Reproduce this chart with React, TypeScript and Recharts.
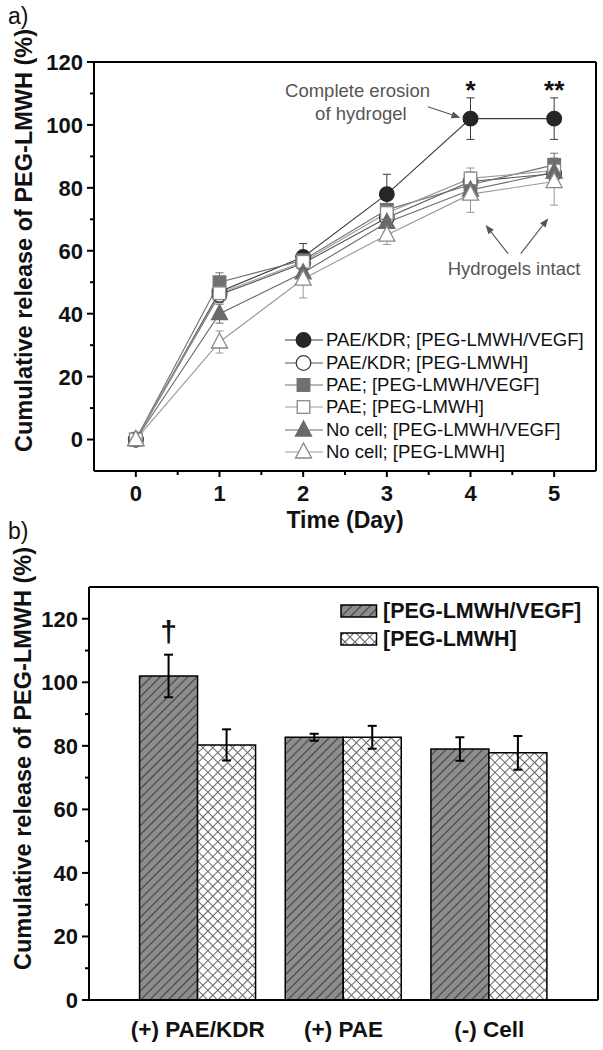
import {
  LineChart,
  Line,
  BarChart,
  Bar,
  XAxis,
  YAxis,
  CartesianGrid,
  ErrorBar,
  ReferenceLine,
  ReferenceDot,
  LabelList,
  Legend,
} from "recharts";

// === data: panel a (cumulative release over time) ===
const days = [0, 1, 2, 3, 4, 5];
const kdrVegf = [0, 47, 58, 78, 102, 102];
const kdrVegfErr = [0.5, 3, 4.3, 6.3, 6.6, 6.6];
const kdrLmwh = [0, 46, 56, 70.5, 82, 84.5];
const kdrLmwhErr = [0.5, 2.5, 3, 3, 3, 3.5];
const paeVegf = [0, 50, 57, 73, 81, 87.3];
const paeVegfErr = [0.5, 3, 3, 3, 3, 3.7];
const paeLmwh = [0, 46.5, 56.5, 72, 83, 85.5];
const paeLmwhErr = [0.5, 2.5, 2.5, 2.5, 3.3, 3];
const noCellVegf = [0, 40, 53, 69, 79.3, 85];
const noCellVegfErr = [0.5, 3, 3, 3, 3, 4];
const noCellLmwh = [0, 31, 51, 65, 78, 82];
const noCellLmwhErr = [0.5, 3.5, 6, 3, 5.8, 7.5];
const stars = ["", "", "", "", "*", "**"];

const xTicksA = [0, 0.5, 1, 1.5, 2, 2.5, 3, 3.5, 4, 4.5, 5];
const yTicksA = [0, 10, 20, 30, 40, 50, 60, 70, 80, 90, 100, 110, 120];

// annotation anchors, in data units (day, %)
const arrowsA = [
  { from: [3.49, 105.8], to: [3.88, 102.3] },
  { from: [4.45, 59.1], to: [4.18, 68.2] },
  { from: [4.6, 59.1], to: [4.93, 70.3] },
];
const notesA = [
  { text: "Complete erosion", at: [2.65, 109] },
  { text: "of hydrogel", at: [2.69, 101.6] },
  { text: "Hydrogels intact", at: [4.52, 52.2] },
];

// === data: panel b (final release per condition) ===
const groups = ["(+) PAE/KDR", "(+) PAE", "(-) Cell"];
const vegfFinal = [102, 82.7, 79];
const vegfFinalErr = [6.7, 1.1, 3.7];
const lmwhFinal = [80.3, 82.7, 77.8];
const lmwhFinalErr = [4.9, 3.6, 5.3];
const daggers = ["†", "", ""];
const yTicksB = [0, 10, 20, 30, 40, 50, 60, 70, 80, 90, 100, 110, 120];

const FONT = '"Liberation Sans", Arial, sans-serif';

const SERIES_A = [
  { key: "kdrVegf", name: "PAE/KDR; [PEG-LMWH/VEGF]", values: kdrVegf, errors: kdrVegfErr, shape: "circle", fill: "#262626", stroke: "#262626", line: "#3a3a3a" },
  { key: "kdrLmwh", name: "PAE/KDR; [PEG-LMWH]", values: kdrLmwh, errors: kdrLmwhErr, shape: "circle", fill: "#ffffff", stroke: "#3a3a3a", line: "#555555" },
  { key: "paeVegf", name: "PAE; [PEG-LMWH/VEGF]", values: paeVegf, errors: paeVegfErr, shape: "square", fill: "#707070", stroke: "#707070", line: "#707070" },
  { key: "paeLmwh", name: "PAE; [PEG-LMWH]", values: paeLmwh, errors: paeLmwhErr, shape: "square", fill: "#ffffff", stroke: "#8a8a8a", line: "#999999" },
  { key: "noCellVegf", name: "No cell; [PEG-LMWH/VEGF]", values: noCellVegf, errors: noCellVegfErr, shape: "triangle", fill: "#6a6a6a", stroke: "#6a6a6a", line: "#6a6a6a" },
  { key: "noCellLmwh", name: "No cell; [PEG-LMWH]", values: noCellLmwh, errors: noCellLmwhErr, shape: "triangle", fill: "#ffffff", stroke: "#888888", line: "#999999" },
];

const rowsA = days.map((day, i) => {
  const row: Record<string, number> = { day };
  SERIES_A.forEach((s) => {
    row[s.key] = s.values[i];
    row[s.key + "Err"] = s.errors[i];
  });
  return row;
});

const BAR_SERIES = [
  { key: "vegf", name: "[PEG-LMWH/VEGF]", fill: "url(#hatchB)" },
  { key: "lmwh", name: "[PEG-LMWH]", fill: "url(#crossB)" },
];

const rowsB = groups.map((group, i) => ({
  group,
  vegf: vegfFinal[i],
  vegfErr: vegfFinalErr[i],
  lmwh: lmwhFinal[i],
  lmwhErr: lmwhFinalErr[i],
}));

/** marker shapes for panel a */
function Marker({ shape, cx, cy, fill, stroke }: any) {
  if (cx == null || cy == null) return null;
  if (shape === "circle")
    return <circle cx={cx} cy={cy} r={7.3} fill={fill} stroke={stroke} strokeWidth={1.3} />;
  if (shape === "square")
    return <rect x={cx - 6.3} y={cy - 6.3} width={12.6} height={12.6} fill={fill} stroke={stroke} strokeWidth={1.3} />;
  return (
    <polygon
      points={`${cx},${cy - 9} ${cx - 8},${cy + 6} ${cx + 8},${cy + 6}`}
      fill={fill}
      stroke={stroke}
      strokeWidth={1.3}
    />
  );
}

const makeDot = (s: any) => (props: any) =>
  <Marker key={`${s.key}-${props.index}`} shape={s.shape} cx={props.cx} cy={props.cy} fill={s.fill} stroke={s.stroke} />;

/** y ticks: major every 20 with label, minor every 10 */
const YTick = (props: any) => {
  const { x, y, payload } = props;
  const major = payload.value % 20 === 0;
  return (
    <g>
      <line x1={x} y1={y} x2={x - (major ? 7 : 4)} y2={y} stroke="#000" strokeWidth={2} />
      {major && (
        <text x={x - 11} y={y} dy="0.36em" textAnchor="end" fontFamily={FONT} fontWeight="bold" fontSize={22} fill="#111">
          {payload.value}
        </text>
      )}
    </g>
  );
};

const XTickA = (props: any) => {
  const { x, y, payload } = props;
  const major = Number.isInteger(payload.value);
  return (
    <g>
      <line x1={x} y1={y} x2={x} y2={y + (major ? 6 : 4)} stroke="#000" strokeWidth={2} />
      {major && (
        <text x={x} y={y + 30} textAnchor="middle" fontFamily={FONT} fontWeight="bold" fontSize={22} fill="#111">
          {payload.value}
        </text>
      )}
    </g>
  );
};

const XTickB = (props: any) => {
  const { x, y, payload } = props;
  return (
    <text x={x} y={y + 37} textAnchor="middle" fontFamily={FONT} fontWeight="bold" fontSize={22.5} fill="#111">
      {payload.value}
    </text>
  );
};

const yTitle = (dx: number, shift: number) => (p: any) => {
  const vb = p.viewBox;
  const x = vb.x + dx;
  const y = vb.y + vb.height / 2 + shift;
  return (
    <text x={x} y={y} transform={`rotate(-90, ${x}, ${y})`} textAnchor="middle" fontFamily={FONT} fontWeight="bold" fontSize={23.5} fill="#111">
      Cumulative release of PEG-LMWH (%)
    </text>
  );
};

const xTitleA = (p: any) => {
  const vb = p.viewBox;
  return (
    <text x={vb.x + vb.width / 2} y={vb.y + 57} textAnchor="middle" fontFamily={FONT} fontWeight="bold" fontSize={23} fill="#111">
      Time (Day)
    </text>
  );
};

const Arrow = (props: any) => {
  const { x1, y1, x2, y2 } = props;
  const ang = Math.atan2(y2 - y1, x2 - x1);
  const L = 9;
  const W = 3.5;
  const bx = x2 - L * Math.cos(ang);
  const by = y2 - L * Math.sin(ang);
  const pts = `${x2},${y2} ${bx - W * Math.sin(ang)},${by + W * Math.cos(ang)} ${bx + W * Math.sin(ang)},${by - W * Math.cos(ang)}`;
  return (
    <g>
      <line x1={x1} y1={y1} x2={bx} y2={by} stroke="#555" strokeWidth={1.1} />
      <polygon points={pts} fill="#555" />
    </g>
  );
};

const noteShape = (text: string) => (p: any) =>
  (
    <text x={p.cx} y={p.cy} textAnchor="middle" fontFamily={FONT} fontSize={18.5} fill="#555">
      {text}
    </text>
  );

const starLabel = (p: any) => {
  const s = stars[p.index];
  if (!s) return null;
  return (
    <text key={`star-${p.index}`} x={p.x} y={p.y - 20} textAnchor="middle" fontFamily={FONT} fontWeight="bold" fontSize={26} fill="#111">
      {s}
    </text>
  );
};

const daggerLabel = (p: any) => {
  const d = daggers[p.index];
  if (!d) return null;
  return (
    <text key={`dag-${p.index}`} x={p.x + p.width / 2} y={p.y - 34} textAnchor="middle" fontFamily={FONT} fontWeight="bold" fontSize={30} fill="#111">
      {d}
    </text>
  );
};

const LegendA = () => (
  <div style={{ fontFamily: FONT, fontSize: 18.5, color: "#111" }}>
    {SERIES_A.map((s) => (
      <div key={s.key} style={{ display: "flex", alignItems: "center", height: 22.4, whiteSpace: "nowrap" }}>
        <svg width={41} height={22}>
          <line x1={1} x2={39} y1={11} y2={11} stroke={s.line} strokeWidth={1.2} />
          <Marker shape={s.shape} cx={19.5} cy={11} fill={s.fill} stroke={s.stroke} />
        </svg>
        <span style={{ marginLeft: 1 }}>{s.name}</span>
      </div>
    ))}
  </div>
);

const LegendB = () => (
  <div style={{ fontFamily: FONT, fontWeight: "bold", fontSize: 21.5, color: "#111" }}>
    {BAR_SERIES.map((s) => (
      <div key={s.key} style={{ display: "flex", alignItems: "center", height: 28, whiteSpace: "nowrap" }}>
        <svg width={38} height={14}>
          <rect x={1} y={1} width={35.5} height={12} fill={s.fill} stroke="#000" strokeWidth={1.5} />
        </svg>
        <span style={{ marginLeft: 5 }}>{s.name}</span>
      </div>
    ))}
  </div>
);

const frameH = ({ offset }: any) => [offset.top, offset.top + offset.height];
const frameV = ({ offset }: any) => [offset.left, offset.left + offset.width];

const panelLabel = (top: number): React.CSSProperties => ({
  position: "absolute",
  left: 8,
  top,
  fontFamily: FONT,
  fontSize: 23,
  lineHeight: "23px",
  color: "#111",
});

export default function App() {
  return (
    <div style={{ position: "absolute", left: 0, top: 0, width: 603, height: 1050, background: "#fff" }}>
      {/* panel a: release profile */}
      <div style={{ position: "absolute", left: 0, top: 0 }}>
        <LineChart width={603} height={545} data={rowsA} margin={{ top: 62, right: 7, left: 24, bottom: 4 }}>
          <CartesianGrid stroke="#000" strokeWidth={2} horizontalCoordinatesGenerator={frameH} verticalCoordinatesGenerator={frameV} />
          <XAxis
            type="number"
            dataKey="day"
            domain={[-0.5, 5.5]}
            allowDataOverflow
            ticks={xTicksA}
            interval={0}
            height={70}
            tickSize={0}
            tickMargin={0}
            tickLine={false}
            axisLine={{ stroke: "#000", strokeWidth: 2 }}
            tick={XTickA}
            label={{ content: xTitleA }}
          />
          <YAxis
            type="number"
            domain={[-10, 120]}
            allowDataOverflow
            ticks={yTicksA}
            interval={0}
            width={70}
            tickSize={0}
            tickMargin={0}
            tickLine={false}
            axisLine={{ stroke: "#000", strokeWidth: 2 }}
            tick={YTick}
            label={{ content: yTitle(8, -26) }}
          />
          {SERIES_A.map((s, i) => (
            <Line
              key={s.key}
              dataKey={s.key}
              name={s.name}
              type="linear"
              stroke={s.line}
              strokeWidth={1.1}
              dot={makeDot(s)}
              activeDot={false}
              isAnimationActive={false}
            >
              <ErrorBar dataKey={s.key + "Err"} direction="y" width={4} stroke={s.line} strokeWidth={1} />
              {i === 0 && <LabelList dataKey={s.key} content={starLabel} />}
            </Line>
          ))}
          {arrowsA.map((a, i) => (
            <ReferenceLine
              key={`arrow-${i}`}
              segment={[
                { x: a.from[0], y: a.from[1] },
                { x: a.to[0], y: a.to[1] },
              ]}
              shape={Arrow}
            />
          ))}
          {notesA.map((n) => (
            <ReferenceDot key={n.text} x={n.at[0]} y={n.at[1]} r={0} shape={noteShape(n.text)} />
          ))}
          <Legend
            layout="vertical"
            align="center"
            verticalAlign="middle"
            wrapperStyle={{ left: 284, top: 329, width: 318 }}
            content={() => <LegendA />}
          />
        </LineChart>
      </div>

      {/* panel b: final release per condition */}
      <div style={{ position: "absolute", left: 0, top: 520 }}>
        <BarChart
          width={603}
          height={530}
          data={rowsB}
          margin={{ top: 67, right: 5, left: 19, bottom: 5 }}
          barGap={0}
          barCategoryGap="10%"
        >
          <defs>
            <pattern id="hatchB" patternUnits="userSpaceOnUse" width={6.5} height={6.5} patternTransform="rotate(45)">
              <rect width={6.5} height={6.5} fill="#8d8d8d" />
              <line x1={3.25} y1={0} x2={3.25} y2={6.5} stroke="#404040" strokeWidth={1.1} />
            </pattern>
            <pattern id="crossB" patternUnits="userSpaceOnUse" width={7} height={7} patternTransform="rotate(45)">
              <rect width={7} height={7} fill="#fff" />
              <line x1={3.5} y1={0} x2={3.5} y2={7} stroke="#666" strokeWidth={1} />
              <line x1={0} y1={3.5} x2={7} y2={3.5} stroke="#666" strokeWidth={1} />
            </pattern>
          </defs>
          <CartesianGrid stroke="#000" strokeWidth={2} horizontalCoordinatesGenerator={frameH} verticalCoordinatesGenerator={frameV} />
          <XAxis
            dataKey="group"
            padding={{ left: 36, right: 36 }}
            height={45}
            tickSize={0}
            tickMargin={0}
            tickLine={false}
            interval={0}
            axisLine={{ stroke: "#000", strokeWidth: 2 }}
            tick={XTickB}
          />
          <YAxis
            type="number"
            domain={[0, 130]}
            allowDataOverflow
            ticks={yTicksB}
            interval={0}
            width={70}
            tickSize={0}
            tickMargin={0}
            tickLine={false}
            axisLine={{ stroke: "#000", strokeWidth: 2 }}
            tick={YTick}
            label={{ content: yTitle(12, -35) }}
          />
          <Bar dataKey="vegf" name="[PEG-LMWH/VEGF]" fill="url(#hatchB)" stroke="#000" strokeWidth={1.5} isAnimationActive={false}>
            <ErrorBar dataKey="vegfErr" direction="y" width={4.5} stroke="#000" strokeWidth={2} />
            <LabelList dataKey="vegf" content={daggerLabel} />
          </Bar>
          <Bar dataKey="lmwh" name="[PEG-LMWH]" fill="url(#crossB)" stroke="#000" strokeWidth={1.5} isAnimationActive={false}>
            <ErrorBar dataKey="lmwhErr" direction="y" width={4.5} stroke="#000" strokeWidth={2} />
          </Bar>
          <Legend
            layout="vertical"
            align="center"
            verticalAlign="middle"
            wrapperStyle={{ left: 340, top: 77, width: 262 }}
            content={() => <LegendB />}
          />
        </BarChart>
      </div>

      <div style={panelLabel(5)}>a)</div>
      <div style={panelLabel(520)}>b)</div>
    </div>
  );
}
